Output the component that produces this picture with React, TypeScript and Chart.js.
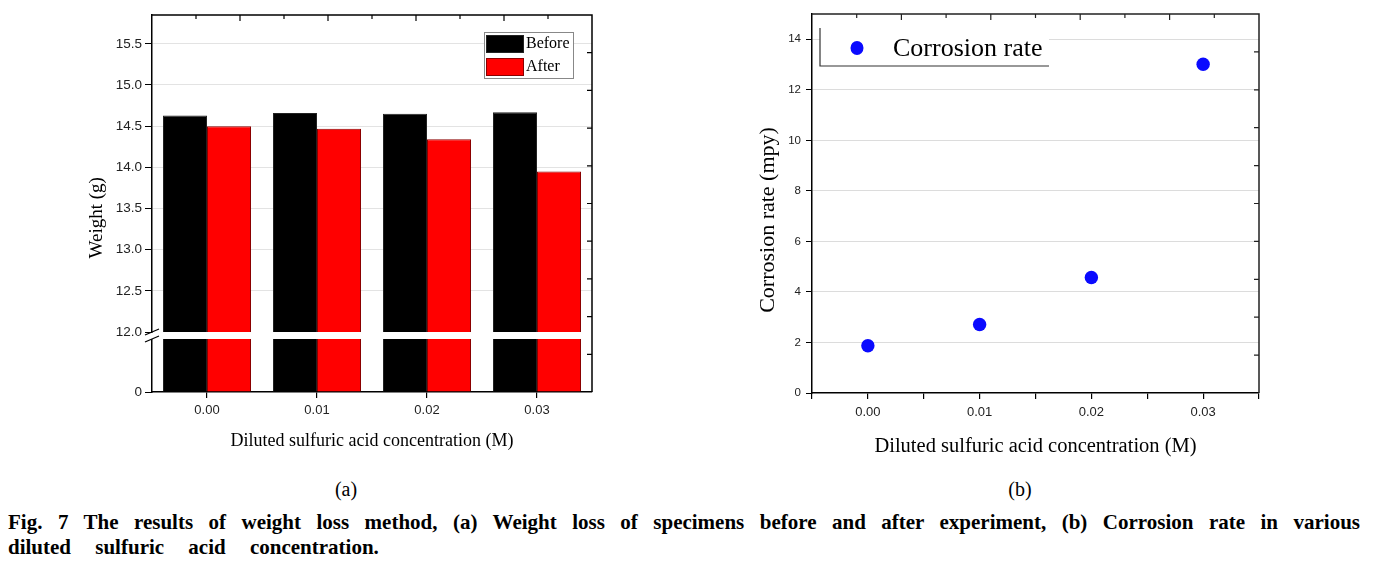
import React, { useEffect, useRef } from "react";
import { Chart, registerables, LinearScale } from "chart.js";

Chart.register(...registerables);

// ---------- data ----------
const concentrations = ["0.00", "0.01", "0.02", "0.03"];
const weightBefore = [14.63, 14.66, 14.65, 14.67];
const weightAfter = [14.5, 14.47, 14.34, 13.95];
const weightTicks = [0, 12.0, 12.5, 13.0, 13.5, 14.0, 14.5, 15.0, 15.5];

const concentrationX = [0.0, 0.01, 0.02, 0.03];
const corrosionRate = [1.87, 2.71, 4.57, 13.01];

// ---------- broken axis ----------
const BREAK_AT = 12;
const LOWER_PX = 53;
const GAP_PX = 7;

class BrokenLinearScale extends LinearScale {
  static id = "brokenLinear";
  static defaults = { ...(LinearScale as any).defaults };
  getPixelForValue(value: number) {
    if (value === null || value === undefined || isNaN(value)) return NaN;
    const self: any = this;
    const lowerTop = self.bottom - LOWER_PX;
    const upperBottom = lowerTop - GAP_PX;
    if (value < BREAK_AT) {
      return self.bottom - ((value - self.min) / (BREAK_AT - self.min)) * LOWER_PX;
    }
    return upperBottom - ((value - BREAK_AT) / (self.max - BREAK_AT)) * (upperBottom - self.top);
  }
  getValueForPixel(pixel: number) {
    const self: any = this;
    const lowerTop = self.bottom - LOWER_PX;
    const upperBottom = lowerTop - GAP_PX;
    if (pixel >= lowerTop) {
      return self.min + ((self.bottom - pixel) / LOWER_PX) * (BREAK_AT - self.min);
    }
    return BREAK_AT + ((upperBottom - pixel) / (upperBottom - self.top)) * (self.max - BREAK_AT);
  }
}
Chart.register(BrokenLinearScale as any);

const SANS = "'Liberation Sans', Arial, sans-serif";
const SERIF = "'Liberation Serif', 'Times New Roman', serif";
const PAD = "\u00a0\u00a0\u00a0\u00a0\u00a0\u00a0";

function drawFrame(chart: any, color: string) {
  const { ctx, chartArea: a } = chart;
  ctx.save();
  ctx.strokeStyle = color;
  ctx.lineWidth = 1.5;
  ctx.beginPath();
  ctx.moveTo(a.left, a.top);
  ctx.lineTo(a.right, a.top);
  ctx.lineTo(a.right, a.bottom);
  ctx.stroke();
  ctx.lineWidth = 1.2;
  ctx.beginPath();
  for (let i = 1; i < 10; i++) {
    const x = a.left + ((a.right - a.left) * i) / 10;
    const len = i % 2 === 0 ? 6 : 4;
    ctx.moveTo(x, a.top);
    ctx.lineTo(x, a.top + len);
  }
  for (let i = 1; i < 10; i++) {
    const y = a.bottom - ((a.bottom - a.top) * i) / 10;
    ctx.moveTo(a.right, y);
    ctx.lineTo(a.right - 5, y);
  }
  ctx.stroke();
  ctx.restore();
}

const weightPlugin = {
  id: "weightDecor",
  afterDatasetsDraw(chart: any) {
    const { ctx, chartArea: a, scales } = chart;
    const y = scales.y;
    const yUp = y.getPixelForValue(BREAK_AT);
    const yLow = y.getPixelForValue(BREAK_AT - 1e-6);
    ctx.save();
    ctx.fillStyle = "#fff";
    ctx.fillRect(a.left + 1, yUp, a.right - a.left - 2, yLow - yUp);
    ctx.restore();
  },
  afterDraw(chart: any) {
    const { ctx, chartArea: a, scales } = chart;
    const y = scales.y;
    const yUp = y.getPixelForValue(BREAK_AT);
    const yLow = y.getPixelForValue(BREAK_AT - 1e-6);
    drawFrame(chart, "#000");
    ctx.save();
    ctx.fillStyle = "#fff";
    ctx.fillRect(a.left - 8, yUp + 1, 16, yLow - yUp - 1);
    ctx.strokeStyle = "#000";
    ctx.lineWidth = 1.3;
    ctx.beginPath();
    ctx.moveTo(a.left - 7, yUp + 3);
    ctx.lineTo(a.left + 7, yUp - 3);
    ctx.moveTo(a.left - 7, yLow + 3);
    ctx.lineTo(a.left + 7, yLow - 3);
    ctx.stroke();

    const bx = a.right - 108;
    const by = a.top + 17;
    const bw = 89;
    const bh = 46;
    ctx.fillStyle = "#fff";
    ctx.fillRect(bx, by, bw, bh);
    ctx.strokeStyle = "#888";
    ctx.lineWidth = 1;
    ctx.strokeRect(bx + 0.5, by + 0.5, bw, bh);
    const ds = chart.data.datasets;
    ctx.font = `16px ${SERIF}`;
    ctx.textBaseline = "middle";
    ds.forEach((d: any, i: number) => {
      const sy = by + 3 + i * 23;
      ctx.fillStyle = d.backgroundColor;
      ctx.fillRect(bx + 2, sy, 37, 17);
      ctx.strokeStyle = d.borderColor;
      ctx.strokeRect(bx + 2.5, sy + 0.5, 37, 17);
      ctx.fillStyle = "#000";
      ctx.fillText(d.label, bx + 42, sy + 9);
    });
    ctx.restore();
  },
};

const ratePlugin = {
  id: "rateDecor",
  afterDraw(chart: any) {
    const { ctx, chartArea: a } = chart;
    drawFrame(chart, "#222");
    ctx.save();
    const bx = a.left + 8;
    const by = a.top + 14;
    const bw = 229;
    const bh = 38;
    ctx.fillStyle = "#fff";
    ctx.fillRect(bx, by, bw, bh);
    ctx.strokeStyle = "#333";
    ctx.lineWidth = 1.2;
    ctx.beginPath();
    ctx.moveTo(bx, by);
    ctx.lineTo(bx, by + bh);
    ctx.lineTo(bx + bw, by + bh);
    ctx.stroke();
    const d = chart.data.datasets[0];
    ctx.fillStyle = d.backgroundColor;
    ctx.beginPath();
    ctx.ellipse(a.left + 45, a.top + 34, 6.5, 7, 0, 0, Math.PI * 2);
    ctx.fill();
    ctx.fillStyle = "#000";
    ctx.font = `26px ${SERIF}`;
    ctx.textBaseline = "middle";
    ctx.fillText(d.label, a.left + 81, a.top + 35);
    ctx.restore();
  },
};

function WeightChart() {
  const ref = useRef<HTMLCanvasElement>(null);
  useEffect(() => {
    const chart = new Chart(ref.current as HTMLCanvasElement, {
      type: "bar",
      data: {
        labels: concentrations,
        datasets: [
          {
            label: "Before",
            data: weightBefore,
            backgroundColor: "#000000",
            borderColor: "#222222",
            borderWidth: 1,
            categoryPercentage: 0.8,
            barPercentage: 1.0,
          },
          {
            label: "After",
            data: weightAfter,
            backgroundColor: "#ff0000",
            borderColor: "#8a0000",
            borderWidth: 1,
            categoryPercentage: 0.8,
            barPercentage: 1.0,
          },
        ],
      },
      options: {
        animation: false,
        responsive: true,
        maintainAspectRatio: false,
        layout: { padding: { top: 15, right: 48, left: 0, bottom: 0 } },
        plugins: { legend: { display: false }, tooltip: { enabled: false } },
        scales: {
          x: {
            grid: { offset: false, drawOnChartArea: false, drawTicks: true, tickLength: 6, color: "#000", lineWidth: 1.2 },
            border: { display: true, color: "#000", width: 1.5 },
            ticks: { color: "#222", font: { family: SANS, size: 13 }, padding: 5, maxRotation: 0 },
            title: {
              display: true,
              text: "Diluted sulfuric acid concentration (M)",
              color: "#000",
              font: { family: SERIF, size: 18 },
              padding: { top: 0, bottom: 18 },
            },
            afterFit: (s: any) => {
              s.height = 78;
            },
          },
          y: {
            type: "brokenLinear" as any,
            min: 0,
            max: 15.85,
            afterBuildTicks: (s: any) => {
              s.ticks = weightTicks.map((v) => ({ value: v }));
            },
            grid: {
              color: (c: any) => (c.tick && (c.tick.value === 0 || c.tick.value === BREAK_AT) ? "rgba(0,0,0,0)" : "#e3e3e3"),
              tickColor: "#000",
              tickLength: 7,
              lineWidth: 1,
            },
            border: { display: true, color: "#000", width: 1.5 },
            ticks: {
              color: "#222",
              font: { family: SANS, size: 13.5 },
              padding: 3,
              callback: (v: any) => (Number(v) === 0 ? "0" : Number(v).toFixed(1)),
            },
            title: {
              display: true,
              text: "Weight (g)" + PAD,
              color: "#000",
              font: { family: SERIF, size: 19 },
              padding: { top: 86, bottom: 0 },
            },
            afterFit: (s: any) => {
              s.width = 152;
            },
          } as any,
        },
      },
      plugins: [weightPlugin],
    });
    return () => chart.destroy();
  }, []);
  return (
    <div style={{ position: "absolute", left: 0, top: 0, width: 640, height: 470 }}>
      <canvas ref={ref} />
    </div>
  );
}

function RateChart() {
  const ref = useRef<HTMLCanvasElement>(null);
  useEffect(() => {
    const chart = new Chart(ref.current as HTMLCanvasElement, {
      type: "scatter",
      data: {
        datasets: [
          {
            label: "Corrosion rate",
            data: concentrationX.map((x, i) => ({ x, y: corrosionRate[i] })),
            backgroundColor: "#0a0aff",
            borderColor: "#0a0aff",
            borderWidth: 0,
            pointRadius: 6.7,
          },
        ],
      },
      options: {
        animation: false,
        responsive: true,
        maintainAspectRatio: false,
        layout: { padding: { top: 14, right: 117, left: 0, bottom: 0 } },
        plugins: { legend: { display: false }, tooltip: { enabled: false } },
        scales: {
          x: {
            type: "linear",
            min: -0.005,
            max: 0.035,
            grid: { drawOnChartArea: false, drawTicks: true, tickLength: 6, color: "#000", lineWidth: 1.2 },
            border: { display: true, color: "#000", width: 1.5 },
            ticks: {
              stepSize: 0.005,
              autoSkip: false,
              maxRotation: 0,
              color: "#222",
              font: { family: SANS, size: 13 },
              padding: 6,
              callback: (v: any) => {
                const r = Math.round(Number(v) * 1000);
                return r >= 0 && r % 10 === 0 ? (r / 1000).toFixed(2) : "";
              },
            },
            title: {
              display: true,
              text: "Diluted sulfuric acid concentration (M)",
              color: "#000",
              font: { family: SERIF, size: 20.5 },
              padding: { top: 0, bottom: 11 },
            },
            afterFit: (s: any) => {
              s.height = 77;
            },
          },
          y: {
            min: 0,
            max: 15,
            grid: {
              color: (c: any) => (c.tick && c.tick.value === 0 ? "rgba(0,0,0,0)" : "#dcdcdc"),
              tickColor: "#000",
              tickLength: 6,
            },
            border: { display: true, color: "#000", width: 1.5 },
            ticks: {
              stepSize: 2,
              includeBounds: false,
              color: "#222",
              font: { family: SANS, size: 11.5 },
              padding: 5,
            },
            title: {
              display: true,
              text: "Corrosion rate (mpy)" + PAD,
              color: "#000",
              font: { family: SERIF, size: 22 },
              padding: { top: 55, bottom: 0 },
            },
            afterFit: (s: any) => {
              s.width = 112;
            },
          },
        },
      },
      plugins: [ratePlugin],
    });
    return () => chart.destroy();
  }, []);
  return (
    <div style={{ position: "absolute", left: 700, top: 0, width: 676, height: 470 }}>
      <canvas ref={ref} />
    </div>
  );
}

export default function App() {
  const sub: React.CSSProperties = {
    position: "absolute",
    top: 477,
    width: 100,
    textAlign: "center",
    fontFamily: SERIF,
    fontSize: 20,
    lineHeight: "24px",
    color: "#000",
  };
  return (
    <div
      style={{
        position: "absolute",
        left: 0,
        top: 0,
        width: 1376,
        height: 569,
        overflow: "hidden",
        background: "#fff",
      }}
    >
      <WeightChart />
      <RateChart />
      <div style={{ ...sub, left: 296 }}>(a)</div>
      <div style={{ ...sub, left: 970 }}>(b)</div>
      <div
        style={{
          position: "absolute",
          left: 8,
          top: 510,
          width: 1352,
          fontFamily: SERIF,
          fontWeight: "bold",
          fontSize: 21,
          lineHeight: "25px",
          color: "#000",
        }}
      >
        <div style={{ textAlign: "justify", textAlignLast: "justify", whiteSpace: "nowrap" as any }}>
          Fig. 7 The results of weight loss method, (a) Weight loss of specimens before and after experiment, (b) Corrosion rate in various
        </div>
        <div style={{ wordSpacing: 19 }}>diluted sulfuric acid concentration.</div>
      </div>
    </div>
  );
}
